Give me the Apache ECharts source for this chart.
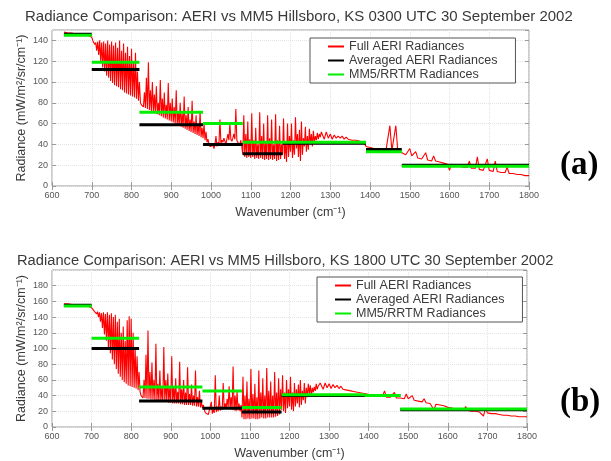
<!DOCTYPE html>
<html>
<head>
<meta charset="utf-8">
<script src="https://cdn.jsdelivr.net/npm/echarts@6/dist/echarts.min.js"></script>
<style>
  html, body { margin: 0; padding: 0; background: #fff; }
  #chart { width: 611px; height: 461px; }
</style>
</head>
<body>
<div id="chart"></div>
<script>
(function () {
  'use strict';

  // ── Data ──────────────────────────────────────────────────────────────────

  var titleA = 'Radiance Comparison: AERI vs MM5 Hillsboro, KS 0300 UTC 30 September 2002';
  var titleB = 'Radiance Comparison: AERI vs MM5 Hillsboro, KS 1800 UTC 30 September 2002';
  var seriesNames = ['Full AERI Radiances', 'Averaged AERI Radiances', 'MM5/RRTM Radiances'];

  // AERI spectrum, read in three pieces:
  // 630-695 every 5 cm-1, 700-1277.5 every 2.5 cm-1 (dense lines), 1280-1800 every 5 cm-1
  var pieceStarts = [630, 700, 1280];
  var pieceSteps  = [5, 2.5, 5];

  var fullA1 = [148,148,147,147,147,147,146,146,146,146,146,145,145,144];
  var fullA2 = [
    143,140,141,136,138,130,139,126,140,120,138,114,139,110,137,106,140,104,136,101,
    139,99,135,97,138,96,133,95,140,93,130,92,137,90,128,89,134,88,125,87,
    132,86,120,85,128,84,110,82,100,80,78,77,76,90,75,104,74,119,73,92,
    72,100,71,88,70,96,69,80,68,102,67,84,66,90,65,78,64,99,63,80,
    62,84,61,76,60,92,59,72,58,80,57,70,56,86,55,68,54,76,53,64,
    52,82,51,62,50,68,49,60,48,72,47,56,46,60,44,52,42,45,40,38,
    38,37,39,36,40,48,38,42,40,64,41,44,42,46,43,40,45,50,44,60,
    45,43,46,50,45,74,44,42,43,40,44,38,30,68,28,50,27,62,28,45,
    27,70,28,44,26,56,27,40,26,71,27,48,26,60,25,42,26,68,25,46,
    26,64,25,40,26,69,24,44,25,58,26,40,30,65,26,42,23,60,28,48,
    33,60,27,44,30,66,36,50,28,54,24,62,30,46,38,57,33,48,35,55,
    40,50,38,53,42,48,44,51,45,50,47,52
  ];
  var fullA3 = [
    51,45,52,46,50,45,49,46,48,46,
    48,45,47,45,46,44,45,44,44,43,
    43,42,38,38,37,37,36,36,35,35,
    35,34,34,34,58,34,34,58,33,32,
    32,31,30,30,36,29,28,33,27,27,
    26,26,32,25,25,24,29,24,23,23,
    22,22,21,21,15,21,20,20,19,19,
    19,18,18,18,24,17,17,17,28,16,
    16,15,15,26,15,14,14,24,14,13,
    13,13,13,18,12,12,12,12,11,11,
    11,11,10,10,10
  ];

  var fullB1 = [157,157,157,157,156,156,156,156,156,155,155,155,154,154];
  var fullB2 = [
    152,150,150,147,148,144,147,140,146,134,145,126,146,118,144,110,146,102,143,94,
    145,86,140,80,143,74,134,68,138,64,120,60,128,57,110,55,136,53,141,52,
    138,51,120,50,102,49,90,47,70,45,40,38,37,60,37,92,36,123,36,70,
    35,82,35,60,34,106,34,55,33,72,33,50,33,102,32,60,32,68,31,50,
    31,90,30,52,30,62,30,45,30,83,29,48,29,60,28,44,28,76,28,42,
    28,54,27,40,27,72,26,38,26,46,25,32,24,28,22,18,18,17,16,17,
    16,32,17,22,18,66,19,26,20,40,21,26,22,56,23,30,24,36,25,52,
    24,38,22,77,21,40,20,46,21,30,20,28,12,64,10,40,10,58,11,36,
    10,74,11,42,11,55,10,38,10,72,11,44,12,62,11,40,11,75,12,46,
    12,58,12,40,12,70,13,44,14,62,16,48,22,66,20,44,18,60,24,48,
    26,64,22,44,20,56,26,48,30,54,25,60,28,46,34,56,30,50,38,55,
    42,53,40,50,44,51,46,55,48,52,50,56
  ];
  var fullB3 = [
    54,48,56,50,55,49,54,50,53,49,
    52,48,50,47,49,46,47,45,46,44,
    44,43,42,42,41,41,40,40,40,39,
    39,39,46,38,38,38,37,44,37,37,
    37,37,36,42,36,35,40,34,34,33,
    33,32,36,31,31,30,30,22,29,28,
    28,27,27,26,25,24,24,23,23,22,
    22,22,21,26,21,21,20,20,20,19,
    19,19,14,24,18,18,17,17,17,16,
    16,16,15,15,15,14,14,14,14,13,
    13,13,13,13,13
  ];

  // band edges for the averaged / model step lines
  var bandEdges = [630, 700, 820, 980, 1080, 1180, 1390, 1480, 1800];
  var avgA   = [146, 112, 59, 40, 31, 41, 35, 20];
  var modelA = [145, 119, 71, 60, 42, 42, 33, 19];
  var avgB   = [155, 100, 33, 24, 19, 40, 40, 22];
  var modelB = [154, 113, 51, 46, 25, 41, 40, 23];

  var xTicks = { min: 600, max: 1800, step: 100 };
  var yTicksA = { min: 0, max: 150, step: 20 };
  var yTicksB = { min: 0, max: 200, step: 20 };

  // ── Helpers ───────────────────────────────────────────────────────────────

  function spectrum(pieces) {
    var out = [];
    pieces.forEach(function (vals, p) {
      vals.forEach(function (v, i) { out.push([pieceStarts[p] + i * pieceSteps[p], v]); });
    });
    return out;
  }

  function steps(edges, vals) {
    var out = [];
    vals.forEach(function (v, i) {
      out.push([edges[i], v], [edges[i + 1], v]);
      if (i < vals.length - 1) out.push([edges[i + 1], '-']);
    });
    return out;
  }

  var font = '"Liberation Sans", Arial, sans-serif';
  var axisGrey = '#9a9a9a';
  var textGrey = '#3a3a3a';

  function plain(v) { return String(v); }

  function xAxisOpt(grid, top) {
    return {
      type: 'value', gridIndex: grid, position: top ? 'top' : 'bottom',
      min: xTicks.min, max: xTicks.max, interval: xTicks.step,
      name: top ? '' : 'Wavenumber (cm\u207B\u00B9)',
      nameLocation: 'middle', nameGap: 20, nameMoveOverlap: false,
      nameTextStyle: { color: textGrey, fontFamily: font, fontSize: 12.5 },
      axisLine: { show: false },
      axisTick: { show: true, inside: true, length: 4, lineStyle: { color: axisGrey } },
      axisLabel: { show: !top, color: '#555', fontFamily: font, fontSize: 9, margin: 5, formatter: plain },
      splitLine: { show: !top, lineStyle: { color: '#e4e4e4', type: 'dotted' } }
    };
  }

  function yAxisOpt(grid, ticks, right) {
    return {
      type: 'value', gridIndex: grid, position: right ? 'right' : 'left',
      min: ticks.min, max: ticks.max, interval: ticks.step,
      name: right ? '' : 'Radiance (mW/m\u00B2/sr/cm\u207B\u00B9)',
      nameLocation: 'middle', nameGap: 24, nameMoveOverlap: false,
      nameTextStyle: { color: textGrey, fontFamily: font, fontSize: 12.5 },
      axisLine: { show: false },
      axisTick: { show: true, inside: true, length: 4, lineStyle: { color: axisGrey } },
      axisLabel: { show: !right, color: '#555', fontFamily: font, fontSize: 9, margin: 4, showMaxLabel: false, formatter: plain },
      splitLine: { show: !right, lineStyle: { color: '#e4e4e4', type: 'dotted' } }
    };
  }

  function legendOpt(left, top) {
    return {
      data: seriesNames, orient: 'vertical', left: left, top: top,
      icon: 'rect', itemWidth: 16, itemHeight: 2, itemGap: 1,
      padding: [2, 18, 2, 18],
      borderColor: '#555', borderWidth: 1, backgroundColor: '#fff',
      textStyle: { color: textGrey, fontFamily: font, fontSize: 12.5 },
      selectedMode: false
    };
  }

  function panelSeries(grid, full, avg, model) {
    return [
      { name: seriesNames[0], type: 'line', xAxisIndex: grid, yAxisIndex: grid,
        data: spectrum(full), symbol: 'none', lineStyle: { color: '#ff0000', width: 1.1 },
        itemStyle: { color: '#ff0000' } },
      { name: seriesNames[1], type: 'line', xAxisIndex: grid, yAxisIndex: grid,
        data: steps(bandEdges, avg), symbol: 'none', lineStyle: { color: '#000', width: 3 },
        itemStyle: { color: '#000' } },
      { name: seriesNames[2], type: 'line', xAxisIndex: grid, yAxisIndex: grid,
        data: steps(bandEdges, model), symbol: 'none', lineStyle: { color: '#00ee00', width: 3 },
        itemStyle: { color: '#00ee00' } }
    ];
  }

  // ── Chart ─────────────────────────────────────────────────────────────────

  var chart = echarts.init(document.getElementById('chart'), null, { renderer: 'canvas' });

  chart.setOption({
    backgroundColor: '#fff',
    animation: false,
    title: [
      { text: titleA, left: 20, top: 4, textStyle: { color: textGrey, fontFamily: font, fontSize: 15, fontWeight: 'normal' } },
      { text: titleB, left: 12, top: 248, textStyle: { color: textGrey, fontFamily: font, fontSize: 14.7, fontWeight: 'normal' } }
    ],
    legend: [legendOpt(310, 38), legendOpt(317, 277)],
    grid: [
      { left: 52, top: 30, width: 477, height: 156, show: true, borderColor: axisGrey, borderWidth: 1 },
      { left: 52, top: 270, width: 475, height: 157, show: true, borderColor: axisGrey, borderWidth: 1 }
    ],
    xAxis: [xAxisOpt(0, false), xAxisOpt(1, false), xAxisOpt(0, true), xAxisOpt(1, true)],
    yAxis: [yAxisOpt(0, yTicksA, false), yAxisOpt(1, yTicksB, false), yAxisOpt(0, yTicksA, true), yAxisOpt(1, yTicksB, true)],
    graphic: [
      { type: 'text', left: 560, top: 149, style: { text: '(a)', fill: '#000', font: 'bold 33px "Liberation Serif", "Times New Roman", serif' } },
      { type: 'text', left: 560, top: 386, style: { text: '(b)', fill: '#000', font: 'bold 33px "Liberation Serif", "Times New Roman", serif' } }
    ],
    series: panelSeries(0, [fullA1, fullA2, fullA3], avgA, modelA)
      .concat(panelSeries(1, [fullB1, fullB2, fullB3], avgB, modelB))
  });

  window.addEventListener('resize', function () { chart.resize(); });
})();
</script>
</body>
</html>
